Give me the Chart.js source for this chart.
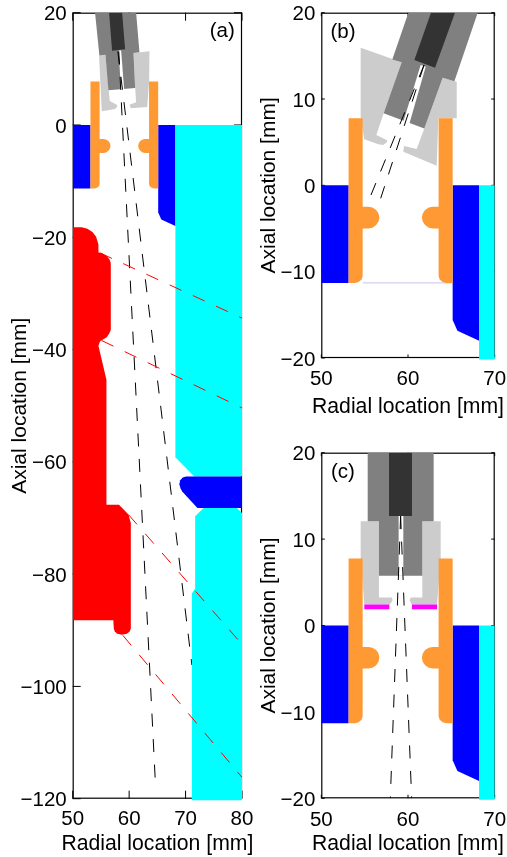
<!DOCTYPE html>
<html><head><meta charset="utf-8">
<script src="https://cdn.jsdelivr.net/npm/chart.js@4"></script>
<style>html,body{margin:0;padding:0;background:#fff}canvas{position:absolute}</style>
</head><body>
<canvas id="a" width="258" height="857" style="left:0;top:0"></canvas>
<canvas id="b" width="251" height="420" style="left:256px;top:0"></canvas>
<canvas id="c" width="251" height="417" style="left:256px;top:440px"></canvas>
<script>
// tick labels
const ticksXa=[50,60,70,80], ticksYa=[-120,-100,-80,-60,-40,-20,0,20];
const ticksXs=[50,60,70], ticksYs=[-20,-10,0,10,20];
const xTitle='Radial location [mm]', yTitle='Axial location [mm]';

// shared hardware outlines
const orangeL=[[53.15,7.76],[54.77,7.76],[54.77,-2.48],[55.45,-2.48],[55.9,-2.57],[56.33,-2.85],[56.6,-3.25],[56.7,-3.73],[56.6,-4.2],[56.33,-4.6],[55.9,-4.9],[55.45,-4.99],[54.77,-4.99],[54.77,-10.5],[54.65,-10.9],[54.3,-11.2],[53.9,-11.3],[53.15,-11.3]];
const orangeR=[[65.15,7.76],[63.53,7.76],[63.53,-2.48],[62.85,-2.48],[62.4,-2.57],[61.97,-2.85],[61.7,-3.25],[61.6,-3.73],[61.7,-4.2],[61.97,-4.6],[62.4,-4.9],[62.85,-4.99],[63.53,-4.99],[63.53,-10.5],[63.65,-10.9],[64,-11.2],[64.4,-11.3],[65.15,-11.3]];
const blueL=[[50,0],[53.15,0],[53.15,-11.3],[50,-11.3]];
const blueR=[[65.15,0],[68.2,0],[68.2,-18],[65.7,-16.85],[65.15,-15.6]];
const cyanS=[[68.2,0],[70,0],[70,-20],[68.2,-20]];
const cyanFootS=[[68.2,-20],[70,-20]];
const floorB=[[54.8,-11.3],[65,-11.3]];

// panel (a)
const cyanA1=[[68.2,0],[80,0],[80,-62.6],[71.54,-62.6],[68.2,-59.2]];
const cyanA2=[[73.2,-68.2],[79.1,-68.2],[80,-69.1],[80,-120],[71.12,-120],[71.12,-83.45],[71.7,-82.55],[71.7,-69.7]];
const cyanFootA=[[71.12,-120],[80,-120]];
const blueBarA=[[80,-62.6],[70.1,-62.6],[69.5,-62.8],[69.05,-63.3],[68.9,-64],[69.1,-64.7],[69.4,-65.3],[72.1,-68.2],[80,-68.2]];
const redA=[[50,-18.23],[51.6,-18.23],[52.6,-18.5],[53.5,-19.05],[54.15,-19.9],[54.56,-21.3],[54.56,-22.7],[55.15,-22.8],[55.95,-23.3],[56.5,-23.9],[56.75,-24.6],[56.75,-36.5],[56.5,-37.1],[56.03,-37.8],[54.85,-38.5],[54.56,-39.3],[55.98,-45.4],[55.98,-67.65],[58.2,-67.65],[59.88,-69.4],[60.3,-70.9],[60.3,-89.7],[60.1,-90.2],[59.6,-90.6],[58.7,-90.8],[57.9,-90.6],[57.45,-90.2],[57.28,-89.7],[57.2,-88.2],[50,-88.2]];
const lightA1=[[54.67,12.23],[55.8,12.53],[56.39,6.18],[56.57,4.28],[57.81,3.62],[57.93,3.33],[57.51,2.85],[55.15,2.43]];
const lightA2=[[60.77,12.83],[63.6,13.12],[63.55,7.84],[63.2,3.2],[60.3,2.97],[60.06,3.62],[61.24,4.04],[61.07,6.59]];
const midA=[[53.96,20],[61.24,20],[61.83,12.95],[60.77,12.83],[61.07,6.59],[56.33,6.18],[55.8,12.53],[54.73,12.35]];
const slitA=[[58.17,13.24],[58.58,13.3],[59.11,6.41],[58.52,6.41]];
const darkA=[[56.45,20],[58.76,20],[59.29,13.48],[56.98,13.24]];
const beamA1=[[58.17,13.1],[64.62,-116.5]];
const beamA2=[[58,13.1],[71.12,-96.2]];
const rayA1=[[54.85,-22.8],[80,-34.4]];
const rayA2=[[55.15,-38.4],[80,-50.4]];
const rayA3=[[59.88,-69.4],[80,-92.5]];
const rayA4=[[58.88,-90.9],[80,-116.2]];

// panel (b)
const lightB1=[[54.54,15.95],[59.27,14.25],[57.19,8.34],[56.35,5.83],[57.54,5.25],[57.62,5.06],[57.15,4.67],[56.58,4.75],[54.96,5.33],[54.54,7.76]];
const lightB2=[[64,12.47],[65.62,12.01],[65.62,7.76],[63.5,7.76],[63.31,2.28],[59.46,3.9],[59.54,4.56],[61,4.21],[61.88,6.6]];
const midB=[[60.04,20],[68.04,20],[65.35,12.05],[64,12.47],[61.88,6.6],[57.19,8.34],[59.27,14.25],[58.19,14.59]];
const slitB=[[61.46,13.94],[62.04,13.75],[60.15,7.1],[59.46,7.37]];
const darkB=[[62.65,20],[65.42,20],[63.12,13.63],[60.73,14.52]];
const beamB1=[[61.85,13.94],[55.73,-1.12]];
const beamB2=[[61.85,13.94],[56.85,-1.5]];

// panel (c)
const lightC1=[[54.54,12.08],[56.65,12.08],[56.65,3.24],[58.12,3.24],[58.23,2.93],[57.92,2.43],[54.96,2.43],[54.54,7.76]];
const lightC2=[[61.65,12.08],[63.77,12.08],[63.77,7.76],[63.35,2.43],[60.42,2.43],[60.19,2.93],[60.31,3.24],[61.65,3.24]];
const midC=[[55.35,20],[62.96,20],[62.96,12.08],[61.65,12.08],[61.65,5.75],[56.65,5.75],[56.65,12.08],[55.35,12.08]];
const slitC=[[58.92,12.66],[59.46,12.66],[59.46,5.75],[58.92,5.75]];
const darkC=[[57.81,20],[60.46,20],[60.46,12.66],[57.81,12.66]];
const magentaC1=[[54.96,2.43],[57.85,2.43],[57.85,1.89],[54.96,1.89]];
const magentaC2=[[60.46,2.43],[63.35,2.43],[63.35,1.89],[60.46,1.89]];
const beamC1=[[59.15,12.66],[57.96,-20]];
const beamC2=[[59.15,12.66],[60.42,-20]];

const LIGHT='#cccccc',MID='#808080',DARK='#333333',ORANGE='#ff9933',BLUE='#0000ff',CYAN='#00ffff',RED='#ff0000',MAGENTA='#ff00ff';
const FONT='"Liberation Sans", Arial, sans-serif';
const pts=p=>p.map(([x,y])=>({x,y}));
const poly=(p,c)=>({data:pts(p),fill:'shape',backgroundColor:c,borderColor:c,borderWidth:0,borderDash:[1],pointRadius:0,tension:0});
const dash=(p,c)=>({data:pts(p),fill:false,borderColor:c,borderWidth:1,borderDash:[13,12.5],pointRadius:0,tension:0});
const thick=(p,c,w)=>({data:pts(p),fill:false,borderColor:c,borderWidth:w,pointRadius:0,tension:0,clip:3});

const frameTicks=len=>({id:'frameTicks',beforeDatasetsDraw(ch){
  const {ctx,chartArea:A,scales:{x,y}}=ch;
  ctx.save();ctx.strokeStyle='#000';ctx.lineWidth=1.2;
  ctx.strokeRect(A.left+.5,A.top+.5,A.right-A.left-1,A.bottom-A.top-1);
  ctx.lineWidth=1;ctx.beginPath();
  x.ticks.forEach(t=>{const p=x.getPixelForValue(t.value);ctx.moveTo(p,A.bottom);ctx.lineTo(p,A.bottom-len);ctx.moveTo(p,A.top);ctx.lineTo(p,A.top+len);});
  y.ticks.forEach(t=>{const p=y.getPixelForValue(t.value);ctx.moveTo(A.left,p);ctx.lineTo(A.left+len,p);ctx.moveTo(A.right,p);ctx.lineTo(A.right-len,p);});
  ctx.stroke();ctx.restore();
}});
const panelTag=(txt,xv,yv)=>({id:'panelTag',afterDraw(ch){
  const {ctx,chartArea:A,scales:{x,y}}=ch;
  ctx.save();ctx.fillStyle='#000';ctx.font='20.5px '+FONT;ctx.textAlign='center';ctx.textBaseline='middle';
  ctx.fillText(txt,x.getPixelForValue(xv),y.getPixelForValue(yv));
  ctx.font='21.2px '+FONT;
  ctx.fillText(xTitle,(A.left+A.right)/2,ch.height-13);
  ctx.restore();
}});
const noPad=s=>{s.paddingTop=0;s.paddingBottom=0;s.paddingLeft=0;s.paddingRight=0;};

function make(id,o){
  const axis=(vals,min,max,extra)=>({type:'linear',min,max,
    afterBuildTicks:s=>{s.ticks=vals.map(value=>({value}));},
    grid:{display:false,drawTicks:false},border:{display:false},
    ...extra});
  new Chart(document.getElementById(id),{
    type:'line',
    data:{datasets:o.layers.slice().reverse()},
    options:{responsive:false,animation:false,events:[],
      layout:{padding:{left:0,top:o.top,right:o.right,bottom:0}},
      plugins:{legend:{display:false},tooltip:{enabled:false},title:{display:false}},
      scales:{
        x:axis(o.tx,o.xmin,o.xmax,{afterFit:s=>{s.height=o.xh;noPad(s);},
          ticks:{color:'#000',font:{family:FONT,size:20.5},padding:o.xpad,autoSkip:false,maxRotation:0,minRotation:0}}),
        y:axis(o.ty,o.ymin,o.ymax,{afterFit:s=>{s.width=o.yw;noPad(s);},
          title:{display:true,text:yTitle,color:'#000',font:{family:FONT,size:21},padding:{top:o.ytp,bottom:0}},
          ticks:{color:'#000',font:{family:FONT,size:20.5},padding:6,autoSkip:false,labelOffset:2,
            callback:v=>String(v).replace('-','\u2212')}})
      }},
    plugins:[frameTicks(o.tick),panelTag(o.tag[0],o.tag[1],o.tag[2])]
  });
}

const white='#ffffff';
make('a',{xmin:50,xmax:80,ymin:-120,ymax:20,tx:ticksXa,ty:ticksYa,top:12.7,right:16,xh:58.3,yw:72.7,xpad:8.5,ytp:7.4,tick:8,tag:['(a)',76.5,16.6],
 layers:[poly(lightA1,LIGHT),poly(lightA2,LIGHT),poly(midA,MID),poly(slitA,white),poly(darkA,DARK),
  dash(beamA1,'#000'),dash(beamA2,'#000'),
  poly(blueL,BLUE),poly(blueR,BLUE),poly(cyanA1,CYAN),poly(cyanA2,CYAN),thick(cyanFootA,CYAN,3),poly(blueBarA,BLUE),
  poly(redA,RED),poly(orangeL,ORANGE),poly(orangeR,ORANGE),
  dash(rayA1,RED),dash(rayA2,RED),dash(rayA3,RED),dash(rayA4,RED)]});
make('b',{xmin:50,xmax:70,ymin:-20,ymax:20,tx:ticksXs,ty:ticksYs,top:12.7,right:12.3,xh:62,yw:65.3,xpad:9.5,ytp:1,tick:3.5,tag:['(b)',52.5,17.76],
 layers:[poly(lightB1,LIGHT),poly(lightB2,LIGHT),poly(midB,MID),poly(slitB,white),poly(darkB,DARK),
  dash(beamB1,'#000'),dash(beamB2,'#000'),
  thick(floorB,'#c4c4ee',1),
  poly(blueL,BLUE),poly(blueR,BLUE),poly(cyanS,CYAN),thick(cyanFootS,CYAN,3),
  poly(orangeL,ORANGE),poly(orangeR,ORANGE)]});
make('c',{xmin:50,xmax:70,ymin:-20,ymax:20,tx:ticksXs,ty:ticksYs,top:12.7,right:12.3,xh:58.7,yw:65.3,xpad:9.5,ytp:1,tick:3.5,tag:['(c)',52.5,17.7],
 layers:[poly(lightC1,LIGHT),poly(lightC2,LIGHT),poly(midC,MID),poly(slitC,white),poly(darkC,DARK),
  poly(magentaC1,MAGENTA),poly(magentaC2,MAGENTA),
  dash(beamC1,'#000'),dash(beamC2,'#000'),
  poly(blueL,BLUE),poly(blueR,BLUE),poly(cyanS,CYAN),thick(cyanFootS,CYAN,3),
  poly(orangeL,ORANGE),poly(orangeR,ORANGE)]});
</script>
</body></html>
